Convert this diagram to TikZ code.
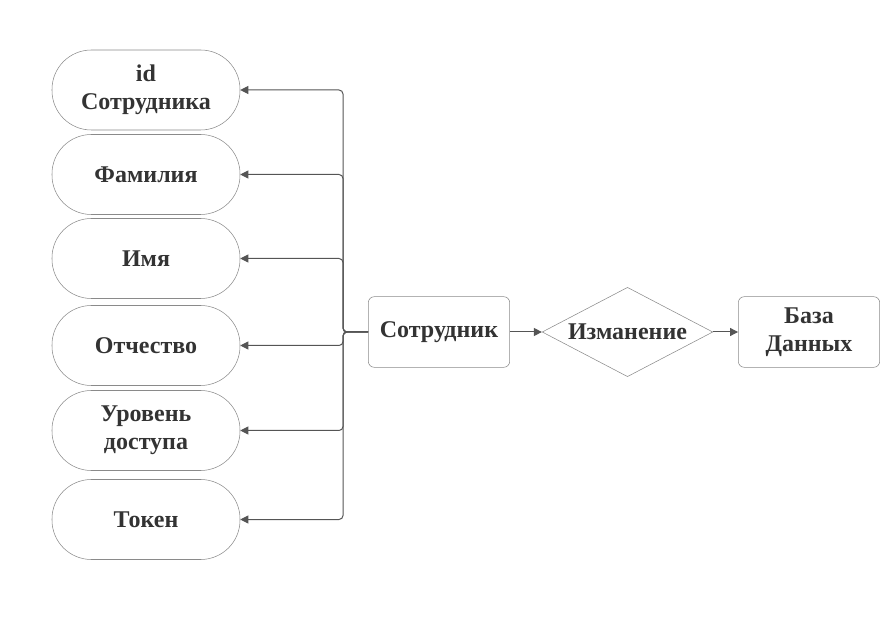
\documentclass[tikz,border=0pt]{standalone}
\usepackage{fontspec}
\setmainfont{Liberation Serif}[BoldFont={Liberation Serif Bold}]
\usepackage{tikz}
\usetikzlibrary{positioning,arrows.meta,shapes.geometric}
\definecolor{ink}{HTML}{333333}
\definecolor{borde}{HTML}{8A8A8A}
\definecolor{linea}{HTML}{555555}
\tikzset{
  caja/.style={draw=borde,rounded corners=4.5pt,align=center,font=\fontsize{18}{21}\selectfont\bfseries,text=ink,inner sep=3pt,fill=white},
  atributo/.style={caja,rounded corners=29.5pt,minimum width=141pt,minimum height=60pt},
  rombo/.style={diamond,draw=borde,align=center,font=\fontsize{18}{21}\selectfont\bfseries,text=ink,inner sep=0pt,shape aspect=1.9,minimum width=128pt,minimum height=67pt},
  flecha/.style={-{Triangle[length=6pt,width=6pt]},line width=0.75pt,color=linea},
}
\begin{document}
\begin{tikzpicture}[x=0.75pt,y=-0.75pt]
  \useasboundingbox (0,0) rectangle (894,638);
  % atributos
  \node[atributo] (idemp) at (146,90) {id\\Сотрудника};
  \node[atributo] (fam) at (146,174.5) {Фамилия};
  \node[atributo] (imya) at (146,258.5) {Имя};
  \node[atributo] (otch) at (146,345.5) {Отчество};
  \node[atributo] (nivel) at (146,430.5) {Уровень\\доступа};
  \node[atributo] (token) at (146,519.5) {Токен};
  % cadena principal
  \node[caja,minimum width=106pt,minimum height=53pt] (emp) at (439,332) {Сотрудник};
  \node[rombo] (cambio) at (627.5,332) {Изманение};
  \node[caja,minimum width=106pt,minimum height=53pt] (bd) at (809,332) {База\\Данных};
  \coordinate (bus) at (343,332);
  \foreach \n in {idemp,fam,imya,otch,nivel,token}
    \draw[flecha,rounded corners=3pt] (emp.west) -- (bus) |- (\n.east);
  \draw[flecha] (emp) -- (cambio);
  \draw[flecha] (cambio) -- (bd);
\end{tikzpicture}
\end{document}
